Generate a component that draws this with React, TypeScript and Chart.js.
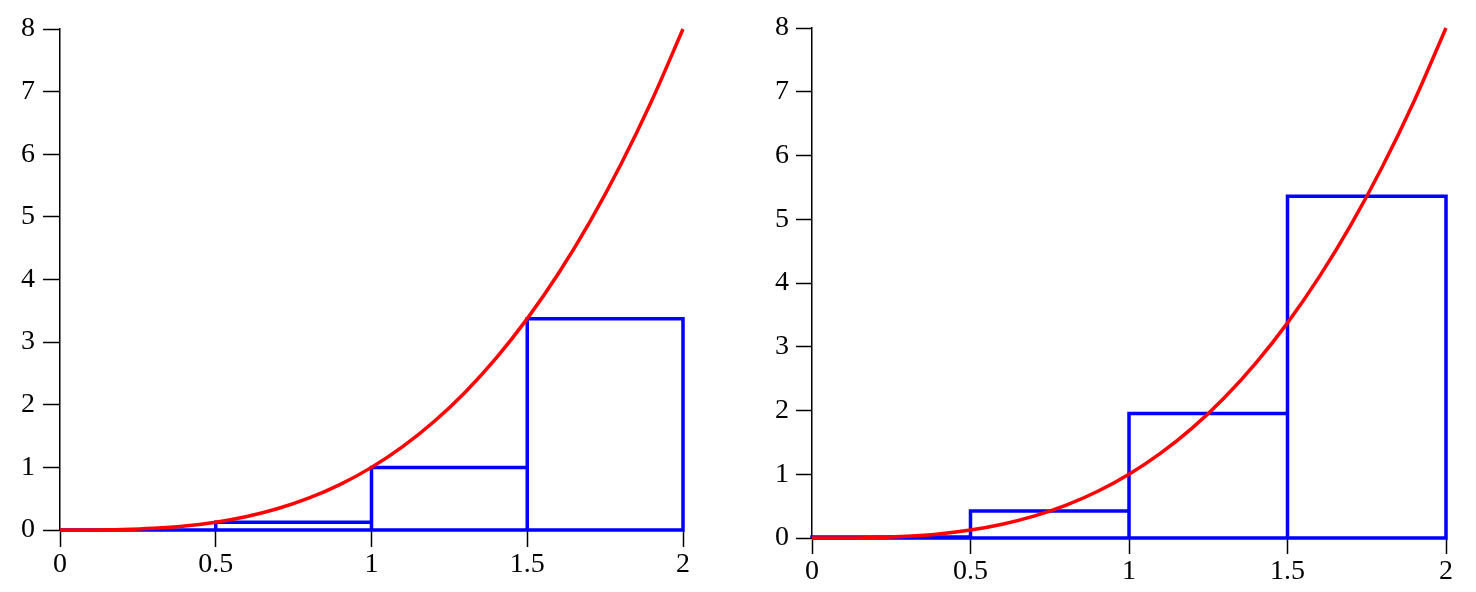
import React, { useEffect, useRef } from "react";
import { Chart, registerables } from "chart.js";

Chart.register(...registerables);

// Curve y = f(x)
const curveX = [0, 0.1, 0.2, 0.3, 0.4, 0.5, 0.6, 0.7, 0.8, 0.9, 1, 1.1, 1.2, 1.3, 1.4, 1.5, 1.6, 1.7, 1.8, 1.9, 2];
const curveY = [0, 0.001, 0.008, 0.027, 0.064, 0.125, 0.216, 0.343, 0.512, 0.729, 1, 1.331, 1.728, 2.197, 2.744, 3.375, 4.096, 4.913, 5.832, 6.859, 8];

// Rectangle edges and heights
const rectEdges = [0, 0.5, 1, 1.5, 2];
const leftHeights = [0, 0.125, 1, 3.375];
const rightHeights = [0.016, 0.422, 1.953, 5.359];

const xTicks = [0, 0.5, 1, 1.5, 2];
const yTicks = [0, 1, 2, 3, 4, 5, 6, 7, 8];

function rectPoints(edges: number[], heights: number[]) {
  const pts: { x: number; y: number | null }[] = [];
  for (let i = 0; i < heights.length; i++) {
    const a = edges[i];
    const b = edges[i + 1];
    const h = heights[i];
    pts.push({ x: a, y: 0 }, { x: a, y: h }, { x: b, y: h }, { x: b, y: 0 }, { x: a, y: 0 }, { x: b, y: null });
  }
  return pts;
}

type Geo = { yWidth: number; xHeight: number; padTop: number; padRight: number; tickLen: number; yPad: number; xPad: number };

function makeChart(canvas: HTMLCanvasElement, heights: number[], g: Geo) {
  const font = { family: "'Liberation Serif', 'DejaVu Serif', serif", size: 28 };
  return new Chart(canvas, {
    type: "line",
    data: {
      datasets: [
        {
          data: curveX.map((x, i) => ({ x, y: curveY[i] })),
          borderColor: "#ff0000",
          borderWidth: 3.5,
          pointRadius: 0,
          cubicInterpolationMode: "monotone",
          fill: false,
          clip: 6,
        },
        {
          data: rectPoints(rectEdges, heights),
          borderColor: "#0000ff",
          borderWidth: 3.5,
          pointRadius: 0,
          spanGaps: false,
          tension: 0,
          fill: false,
          clip: 6,
        },
      ],
    },
    options: {
      animation: false,
      responsive: false,
      maintainAspectRatio: false,
      layout: { padding: { top: g.padTop, right: g.padRight, left: 0, bottom: 0 } },
      plugins: { legend: { display: false }, tooltip: { enabled: false } },
      scales: {
        x: {
          type: "linear",
          min: 0,
          max: 2,
          z: 1,
          afterBuildTicks: (s: any) => {
            s.ticks = xTicks.map((v) => ({ value: v }));
          },
          afterFit: (s: any) => {
            s.height = g.xHeight;
          },
          ticks: { color: "#000", font, padding: g.xPad, maxRotation: 0, autoSkip: false, callback: (v: any) => String(v) },
          grid: { drawOnChartArea: false, drawTicks: true, tickLength: g.tickLen, tickColor: "#000", tickWidth: 1.5 },
          border: { display: true, color: "#000", width: 1.5 },
        },
        y: {
          type: "linear",
          min: 0,
          max: 8,
          afterBuildTicks: (s: any) => {
            s.ticks = yTicks.map((v) => ({ value: v }));
          },
          afterFit: (s: any) => {
            s.width = g.yWidth;
          },
          ticks: { color: "#000", font, padding: g.yPad, autoSkip: false, callback: (v: any) => String(v) },
          grid: { drawOnChartArea: false, drawTicks: true, tickLength: g.tickLen, tickColor: "#000", tickWidth: 1.5 },
          border: { display: true, color: "#000", width: 1.5 },
        },
      },
    } as any,
  });
}

export default function App() {
  const leftRef = useRef<HTMLCanvasElement>(null);
  const rightRef = useRef<HTMLCanvasElement>(null);

  useEffect(() => {
    const c1 = makeChart(leftRef.current!, leftHeights, {
      yWidth: 60,
      xHeight: 62,
      padTop: 29,
      padRight: 55,
      tickLen: 17,
      yPad: 8,
      xPad: 1,
    });
    const c2 = makeChart(rightRef.current!, rightHeights, {
      yWidth: 74,
      xHeight: 54,
      padTop: 28,
      padRight: 30,
      tickLen: 16,
      yPad: 7,
      xPad: 1,
    });
    return () => {
      c1.destroy();
      c2.destroy();
    };
  }, []);

  return (
    <div style={{ position: "absolute", left: 0, top: 0, width: 1476, height: 592, background: "#fff" }}>
      <canvas ref={leftRef} width={738} height={592} style={{ position: "absolute", left: 0, top: 0, width: 738, height: 592 }} />
      <canvas ref={rightRef} width={738} height={592} style={{ position: "absolute", left: 738, top: 0, width: 738, height: 592 }} />
    </div>
  );
}
